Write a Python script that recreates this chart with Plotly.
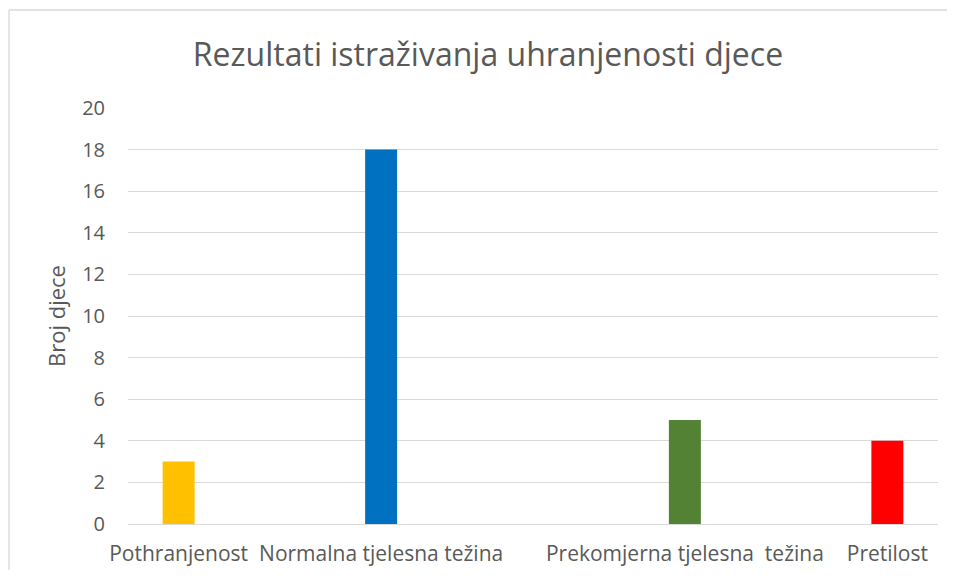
import plotly.graph_objects as go

title = "Rezultati istraživanja uhranjenosti djece"
y_title = "Broj djece"
categories = ["Pothranjenost", "Normalna tjelesna težina", "Prekomjerna tjelesna  težina", "Pretilost"]
values = [3, 18, 5, 4]
colors = ["#FFC000", "#0070C0", "#548235", "#FF0000"]
y_ticks = [0, 2, 4, 6, 8, 10, 12, 14, 16, 18, 20]

# layout: empty spacer slots between categories (as in the original chart)
spacers_after = [1, 2, 1, 0]
x_cats, y_vals, c_vals = [], [], []
k = 0
for cat, v, c, n in zip(categories, values, colors, spacers_after):
    x_cats.append(cat); y_vals.append(v); c_vals.append(c)
    for _ in range(n):
        k += 1
        x_cats.append(" " * k); y_vals.append(None); c_vals.append(c)

FONT = "Open Sans"
TXT = "#595959"
GRID = "#d9d9d9"

# page body adds an 8px margin on every side; figure is sized to fit inside
W, H = 939, 562
L, R, T, B = 120, 9, 100, 46
PW, PH = W - L - R, H - T - B

def px_x(p):
    return (p - L) / PW

def px_y(p):
    return (PH + T - p) / PH

border = dict(color=GRID, width=1.3)

fig = go.Figure(go.Bar(x=x_cats, y=y_vals, marker=dict(color=c_vals, line=dict(width=0)),
                       hoverinfo="x+y"))

fig.update_layout(
    width=W, height=H,
    margin=dict(l=L, r=R, t=T, b=B, autoexpand=False),
    paper_bgcolor="white", plot_bgcolor="white",
    bargap=0.684,
    showlegend=False,
    font=dict(family=FONT, color=TXT),
    title=dict(text=title, x=(488 - 8) / W, xref="container", xanchor="center",
               y=1 - (55 - 8) / H, yref="container", yanchor="middle",
               font=dict(family=FONT, size=32, color=TXT)),
    xaxis=dict(type="category", categoryorder="array", categoryarray=x_cats,
               tickangle=0, showgrid=False, showline=False, zeroline=False, automargin=False,
               tickfont=dict(family=FONT, size=21, color=TXT),
               ticks="", ticklabelstandoff=15),
    yaxis=dict(range=[0, 20], tickvals=y_ticks, showgrid=True, gridcolor=GRID, gridwidth=1.3,
               zeroline=True, zerolinecolor=GRID, zerolinewidth=1.3, showline=False, automargin=False,
               tickfont=dict(family=FONT, size=20, color=TXT), ticks="", ticklabelstandoff=22,
               title=dict(text=y_title, font=dict(family=FONT, size=22, color=TXT), standoff=10)),
    shapes=[
        dict(type="line", xref="paper", yref="paper", x0=px_x(1), x1=px_x(1),
             y0=px_y(2), y1=px_y(H), line=border, layer="below"),
        dict(type="line", xref="paper", yref="paper", x0=px_x(1), x1=px_x(W),
             y0=px_y(2), y1=px_y(2), line=border, layer="below"),
    ],
)

fig.write_html("out.html")
